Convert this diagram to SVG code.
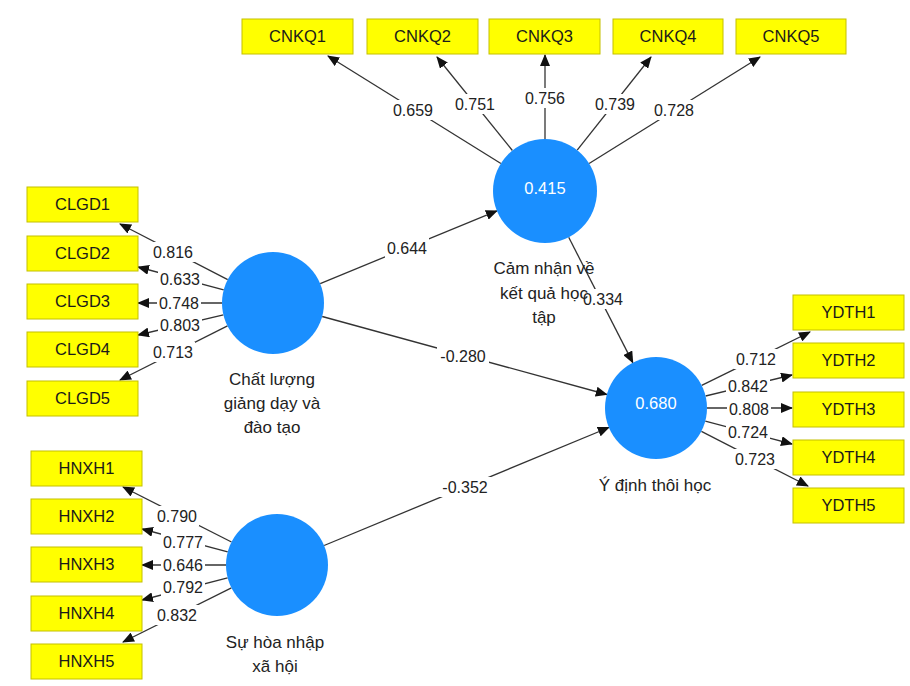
<svg xmlns="http://www.w3.org/2000/svg" width="910" height="686" viewBox="0 0 910 686">
<defs>
<marker id="ah" markerWidth="12" markerHeight="10" refX="11" refY="5" orient="auto" markerUnits="userSpaceOnUse">
<path d="M0,0 L12,5 L0,10 Z" fill="#111"/>
</marker>
<style>
.box{fill:#ffff00;stroke:#c4c000;stroke-width:1}
.bt{font-family:"Liberation Sans",Arial,sans-serif;font-size:16.5px;fill:#1a1a1a;text-anchor:middle}
.lv{fill:#1a8fff}
.vt{font-family:"Liberation Sans",Arial,sans-serif;font-size:16.5px;fill:#ffffff;text-anchor:middle}
.nt{font-family:"Liberation Sans",Arial,sans-serif;font-size:17px;fill:#222;text-anchor:middle}
.ln{stroke:#333;stroke-width:1.3;fill:none;marker-end:url(#ah)}
.lb{fill:#ffffff}
.et{font-family:"Liberation Sans",Arial,sans-serif;font-size:16px;fill:#222;text-anchor:middle}
</style>
</defs>
<rect width="910" height="686" fill="#ffffff"/>

<g id="connectors">
<line class="ln" x1="500.9" y1="163.5" x2="328" y2="56"/>
<line class="ln" x1="512.4" y1="150.5" x2="437" y2="57"/>
<line class="ln" x1="545" y1="139" x2="545" y2="55"/>
<line class="ln" x1="577.2" y1="150.2" x2="651" y2="57"/>
<line class="ln" x1="589.1" y1="163.5" x2="760" y2="57"/>
<line class="ln" x1="227.7" y1="279.6" x2="120" y2="224"/>
<line class="ln" x1="223.7" y1="289.9" x2="138" y2="267"/>
<line class="ln" x1="222" y1="303" x2="138" y2="303"/>
<line class="ln" x1="223.4" y1="314.8" x2="138" y2="335"/>
<line class="ln" x1="227.5" y1="325.9" x2="120" y2="380"/>
<line class="ln" x1="231.5" y1="542" x2="123" y2="487"/>
<line class="ln" x1="227.7" y1="551.9" x2="142" y2="529"/>
<line class="ln" x1="226" y1="565" x2="142" y2="565"/>
<line class="ln" x1="227.6" y1="577.8" x2="142" y2="600"/>
<line class="ln" x1="231.4" y1="587.8" x2="123" y2="642"/>
<line class="ln" x1="701.7" y1="385.4" x2="810" y2="332"/>
<line class="ln" x1="705.6" y1="396" x2="792" y2="375"/>
<line class="ln" x1="707" y1="408" x2="792" y2="408"/>
<line class="ln" x1="705.3" y1="421.1" x2="792" y2="444"/>
<line class="ln" x1="701.4" y1="431.3" x2="808" y2="486"/>
<line class="ln" x1="320.2" y1="283.6" x2="496.9" y2="210.8"/>
<line class="ln" x1="322.2" y1="316.5" x2="606.8" y2="394.5"/>
<line class="ln" x1="324.1" y1="545.5" x2="608.9" y2="427.5"/>
<line class="ln" x1="568.7" y1="237.3" x2="632.8" y2="362.6"/>

<g>
<rect class="lb" x="391" y="100" width="44" height="20"/><text class="et" x="413" y="116">0.659</text>
<rect class="lb" x="453" y="94" width="44" height="20"/><text class="et" x="475" y="110">0.751</text>
<rect class="lb" x="523" y="88" width="44" height="20"/><text class="et" x="545" y="104">0.756</text>
<rect class="lb" x="593" y="94" width="44" height="20"/><text class="et" x="615" y="110">0.739</text>
<rect class="lb" x="652" y="100" width="44" height="20"/><text class="et" x="674" y="116">0.728</text>

<rect class="lb" x="151" y="242" width="44" height="20"/><text class="et" x="173" y="258">0.816</text>
<rect class="lb" x="158" y="269" width="44" height="20"/><text class="et" x="180" y="285">0.633</text>
<rect class="lb" x="157" y="293" width="44" height="20"/><text class="et" x="179" y="309">0.748</text>
<rect class="lb" x="158" y="315" width="44" height="20"/><text class="et" x="180" y="331">0.803</text>
<rect class="lb" x="151" y="342" width="44" height="20"/><text class="et" x="173" y="358">0.713</text>

<rect class="lb" x="155" y="506" width="44" height="20"/><text class="et" x="177" y="522">0.790</text>
<rect class="lb" x="161" y="532" width="44" height="20"/><text class="et" x="183" y="548">0.777</text>
<rect class="lb" x="161" y="555" width="44" height="20"/><text class="et" x="183" y="571">0.646</text>
<rect class="lb" x="161" y="577" width="44" height="20"/><text class="et" x="183" y="593">0.792</text>
<rect class="lb" x="155" y="605" width="44" height="20"/><text class="et" x="177" y="621">0.832</text>

<rect class="lb" x="734" y="349" width="44" height="20"/><text class="et" x="756" y="365">0.712</text>
<rect class="lb" x="726" y="376" width="44" height="20"/><text class="et" x="748" y="392">0.842</text>
<rect class="lb" x="727" y="399" width="44" height="20"/><text class="et" x="749" y="415">0.808</text>
<rect class="lb" x="726" y="422" width="44" height="20"/><text class="et" x="748" y="438">0.724</text>
<rect class="lb" x="733" y="449" width="44" height="20"/><text class="et" x="755" y="465">0.723</text>

<rect class="lb" x="385" y="238" width="44" height="20"/><text class="et" x="407" y="254">0.644</text>
<rect class="lb" x="437" y="346" width="52" height="20"/><text class="et" x="463" y="362">-0.280</text>
<rect class="lb" x="439" y="477" width="52" height="20"/><text class="et" x="465" y="493">-0.352</text>
<rect class="lb" x="581" y="289" width="44" height="20"/><text class="et" x="603" y="305">0.334</text>
</g>
</g>

<g id="CNKQ1"><rect class="box" x="242" y="19" width="111" height="35"/><text class="bt" x="297.5" y="42">CNKQ1</text></g>
<g id="CNKQ2"><rect class="box" x="367" y="19" width="111" height="35"/><text class="bt" x="422.5" y="42">CNKQ2</text></g>
<g id="CNKQ3"><rect class="box" x="489" y="19" width="111" height="35"/><text class="bt" x="544.5" y="42">CNKQ3</text></g>
<g id="CNKQ4"><rect class="box" x="613" y="19" width="110" height="35"/><text class="bt" x="668" y="42">CNKQ4</text></g>
<g id="CNKQ5"><rect class="box" x="736" y="19" width="110" height="35"/><text class="bt" x="791" y="42">CNKQ5</text></g>

<g id="CLGD1"><rect class="box" x="27" y="187" width="111" height="35"/><text class="bt" x="82.5" y="210">CLGD1</text></g>
<g id="CLGD2"><rect class="box" x="27" y="236" width="111" height="35"/><text class="bt" x="82.5" y="259">CLGD2</text></g>
<g id="CLGD3"><rect class="box" x="27" y="284" width="111" height="35"/><text class="bt" x="82.5" y="307">CLGD3</text></g>
<g id="CLGD4"><rect class="box" x="27" y="332" width="111" height="35"/><text class="bt" x="82.5" y="355">CLGD4</text></g>
<g id="CLGD5"><rect class="box" x="27" y="381" width="111" height="35"/><text class="bt" x="82.5" y="404">CLGD5</text></g>

<g id="HNXH1"><rect class="box" x="31" y="451" width="111" height="35"/><text class="bt" x="86.5" y="474">HNXH1</text></g>
<g id="HNXH2"><rect class="box" x="31" y="499" width="111" height="35"/><text class="bt" x="86.5" y="522">HNXH2</text></g>
<g id="HNXH3"><rect class="box" x="31" y="547" width="111" height="35"/><text class="bt" x="86.5" y="570">HNXH3</text></g>
<g id="HNXH4"><rect class="box" x="31" y="596" width="111" height="35"/><text class="bt" x="86.5" y="619">HNXH4</text></g>
<g id="HNXH5"><rect class="box" x="31" y="644" width="111" height="35"/><text class="bt" x="86.5" y="667">HNXH5</text></g>

<g id="YDTH1"><rect class="box" x="793" y="295" width="111" height="35"/><text class="bt" x="848.5" y="318">YDTH1</text></g>
<g id="YDTH2"><rect class="box" x="793" y="343" width="111" height="35"/><text class="bt" x="848.5" y="366">YDTH2</text></g>
<g id="YDTH3"><rect class="box" x="793" y="392" width="111" height="35"/><text class="bt" x="848.5" y="415">YDTH3</text></g>
<g id="YDTH4"><rect class="box" x="793" y="440" width="111" height="35"/><text class="bt" x="848.5" y="463">YDTH4</text></g>
<g id="YDTH5"><rect class="box" x="793" y="488" width="111" height="35"/><text class="bt" x="848.5" y="511">YDTH5</text></g>

<g id="CNKQ"><circle class="lv" cx="545" cy="191" r="52"/><text class="vt" x="545" y="194">0.415</text>
<text class="nt" x="544" y="274">Cảm nhận về</text><text class="nt" x="544" y="299">kết quả học</text><text class="nt" x="544" y="323">tập</text></g>
<g id="CLGD"><circle class="lv" cx="273" cy="303" r="51"/>
<text class="nt" x="272" y="385">Chất lượng</text><text class="nt" x="272" y="409">giảng dạy và</text><text class="nt" x="272" y="433">đào tạo</text></g>
<g id="HNXH"><circle class="lv" cx="277" cy="565" r="51"/>
<text class="nt" x="275" y="648">Sự hòa nhập</text><text class="nt" x="275" y="672">xã hội</text></g>
<g id="YDTH"><circle class="lv" cx="656" cy="408" r="51"/><text class="vt" x="656" y="409">0.680</text>
<text class="nt" x="655" y="491">Ý định thôi học</text></g>
</svg>
